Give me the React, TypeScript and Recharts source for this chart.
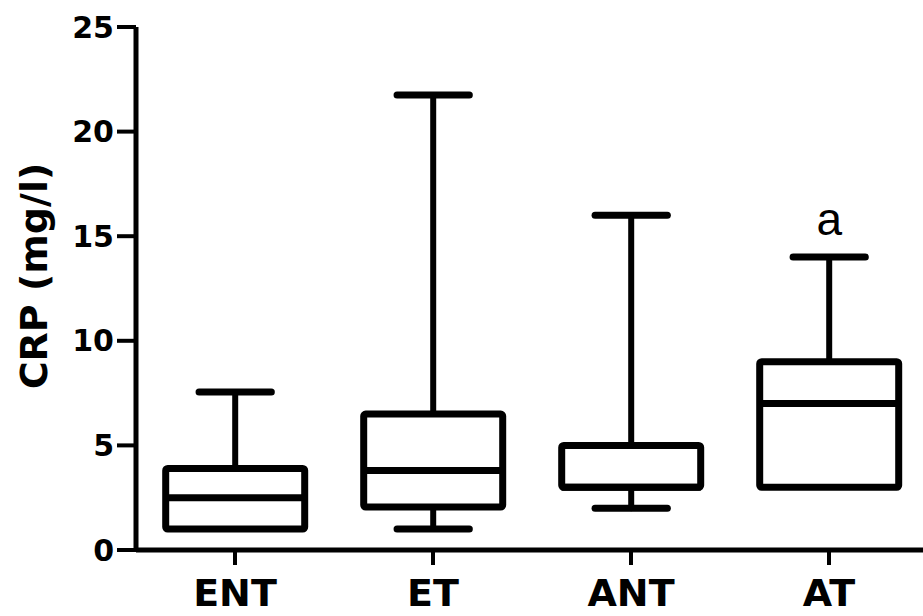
import React from "react";
import { ComposedChart, Bar, XAxis, YAxis } from "recharts";

// box plot stats
const groups = ["ENT", "ET", "ANT", "AT"];
const mins = [1, 1, 2, 3];
const q1s = [1, 2.05, 3, 3];
const medians = [2.5, 3.8, 3, 7];
const q3s = [3.9, 6.5, 5, 9];
const maxs = [7.55, 21.75, 16, 14];
const notes = ["", "", "", "a"];
const yTicks = [0, 5, 10, 15, 20, 25];

const data = groups.map((name, i) => ({
  name,
  min: mins[i],
  q1: q1s[i],
  median: medians[i],
  q3: q3s[i],
  max: maxs[i],
  note: notes[i],
}));

const font = "'DejaVu Sans', sans-serif";

function BoxShape(props: any) {
  const { x, y, width, height, payload } = props;
  const d = payload;
  const unit = height / (d.max - d.min);
  const toY = (v: number) => y + (d.max - v) * unit;
  const cx = x + width / 2;
  const cap = width * 0.52;
  const yQ1 = toY(d.q1);
  const yQ3 = toY(d.q3);
  return (
    <g stroke="#000" fill="none" strokeLinecap="round">
      <line x1={cx} x2={cx} y1={toY(d.max)} y2={yQ3} strokeWidth={6} />
      <line x1={cx - cap / 2} x2={cx + cap / 2} y1={toY(d.max)} y2={toY(d.max)} strokeWidth={7} />
      {d.min < d.q1 && (
        <>
          <line x1={cx} x2={cx} y1={yQ1} y2={toY(d.min)} strokeWidth={6} />
          <line x1={cx - cap / 2} x2={cx + cap / 2} y1={toY(d.min)} y2={toY(d.min)} strokeWidth={7} />
        </>
      )}
      <rect
        x={x}
        y={yQ3}
        width={width}
        height={yQ1 - yQ3}
        fill="#fff"
        strokeWidth={7}
        strokeLinejoin="round"
        rx={2}
      />
      <line x1={x} x2={x + width} y1={toY(d.median)} y2={toY(d.median)} strokeWidth={7} strokeLinecap="butt" />
      {d.note && (
        <text
          x={cx}
          y={toY(d.max) - 22}
          textAnchor="middle"
          stroke="none"
          fill="#000"
          fontFamily="'Liberation Sans', Arial, sans-serif"
          fontSize={46}
        >
          {d.note}
        </text>
      )}
    </g>
  );
}

const YLabel = () => (
  <text
    x={34}
    y={276}
    transform="rotate(-90 34 276)"
    textAnchor="middle"
    dominantBaseline="central"
    fontFamily={font}
    fontWeight="bold"
    fontSize={38}
    fill="#000"
  >
    CRP (mg/l)
  </text>
);

export default function App() {
  return (
    <div style={{ position: "absolute", left: 0, top: 0, width: 923, height: 616, background: "#fff" }}>
      <ComposedChart
        width={923}
        height={616}
        data={data}
        margin={{ top: 27, right: -5, bottom: 0, left: 0 }}
        barCategoryGap="15%"
      >
        <XAxis
          dataKey="name"
          height={66}
          axisLine={{ stroke: "#000", strokeWidth: 5 }}
          tickLine={{ stroke: "#000", strokeWidth: 4 }}
          tickSize={15}
          tickMargin={14}
          tick={{ fill: "#000", fontFamily: font, fontWeight: "bold", fontSize: 38 }}
        />
        <YAxis
          width={136}
          domain={[0, 25]}
          ticks={yTicks}
          axisLine={{ stroke: "#000", strokeWidth: 5 }}
          tickLine={{ stroke: "#000", strokeWidth: 4 }}
          tickSize={19}
          tickMargin={3}
          tick={{ fill: "#000", fontFamily: font, fontWeight: "bold", fontSize: 30 }}
          label={<YLabel />}
        />
        <Bar
          dataKey={(d: any) => [d.min, d.max]}
          shape={<BoxShape />}
          isAnimationActive={false}
        />
      </ComposedChart>
    </div>
  );
}
